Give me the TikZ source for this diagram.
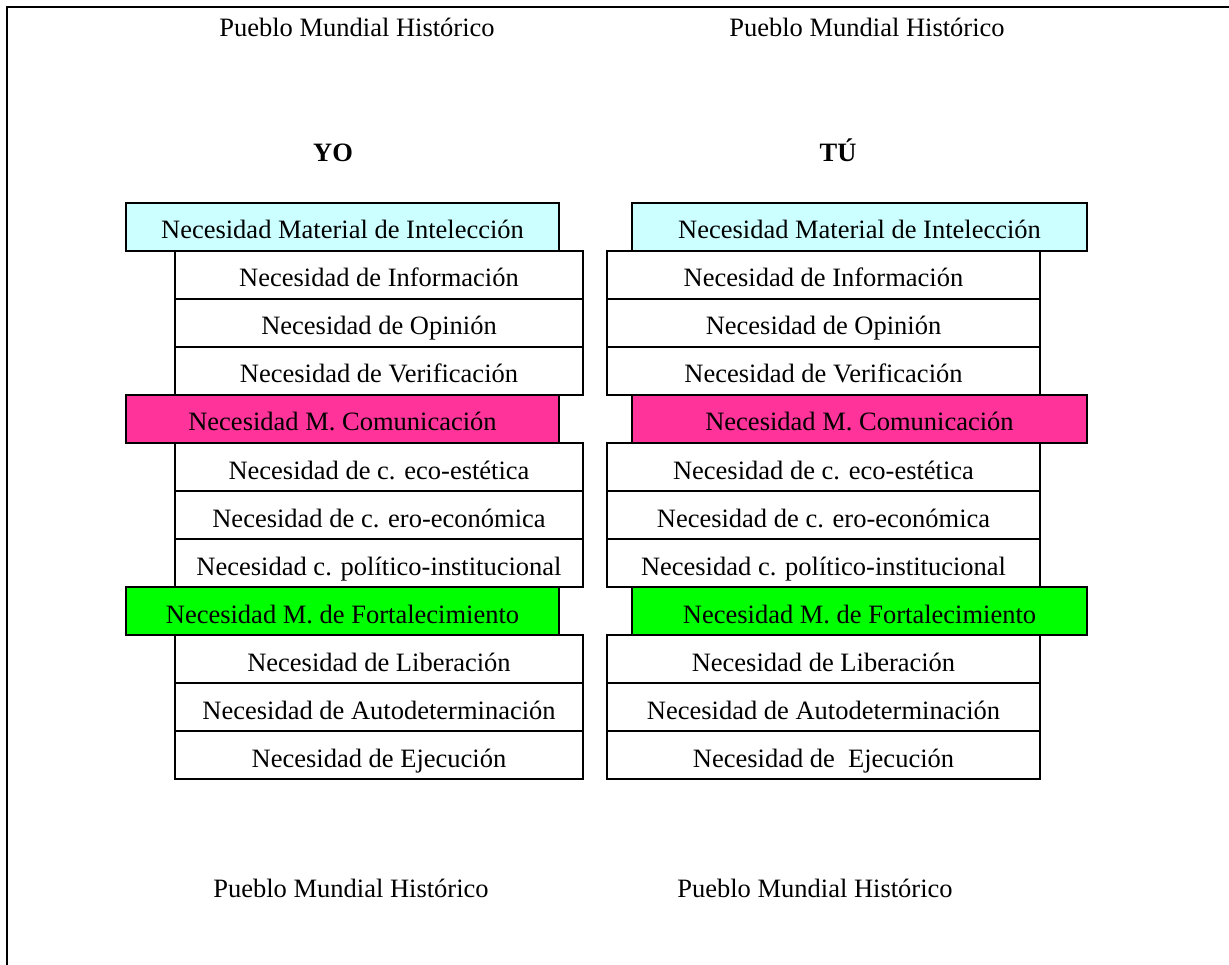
\documentclass[tikz,border=0pt]{standalone}
\usepackage{fontspec}
\setmainfont{Liberation Serif}
\definecolor{celeste}{RGB}{204,255,255}
\definecolor{rosa}{RGB}{255,51,153}
\definecolor{verde}{RGB}{0,255,0}
\begin{document}
\begin{tikzpicture}[x=1pt,y=-1pt,
    every node/.style={font=\fontsize{26.5}{30}\selectfont},
    caja/.style={draw,line width=1.6pt,inner xsep=0pt,inner ysep=0pt,
      minimum height=48pt,text height=36pt,text depth=12pt},
    yoblanca/.style={caja,fill=white,minimum width=408pt},
    yocolor/.style={caja,minimum width=433pt},
    tublanca/.style={caja,fill=white,minimum width=433pt},
    tucolor/.style={caja,minimum width=455pt},
    pueblo/.style={anchor=base},
    titulo/.style={anchor=base,font=\fontsize{26.5}{30}\selectfont\bfseries}]
  \useasboundingbox (0,0) rectangle (1229,965);
  % marco
  \draw[line width=2.5pt] (7,965) -- (7,7) -- (1229,7);
  \draw
    (357,37) node[pueblo] (p1){Pueblo Mundial Histórico}
    (867,37) node[pueblo] (p2){Pueblo Mundial Histórico}
    (351,897) node[pueblo] (p3){Pueblo Mundial Histórico}
    (815,897) node[pueblo] (p4){Pueblo Mundial Histórico}
    (333,162) node[titulo] (yo){YO}
    (838,162) node[titulo] (tu){TÚ};
  % columna YO
  \draw
    (342.5,227) node[yocolor,fill=celeste] (yo1){Necesidad Material de Intelección}
    (379,275) node[yoblanca] (yo2){Necesidad de Información}
    (379,323) node[yoblanca] (yo3){Necesidad de Opinión}
    (379,371) node[yoblanca] (yo4){Necesidad de Verificación}
    (342.5,419) node[yocolor,fill=rosa] (yo5){Necesidad M. Comunicación}
    (379,467) node[yoblanca] (yo6){Necesidad de c. eco-estética}
    (379,515) node[yoblanca] (yo7){Necesidad de c. ero-económica}
    (379,563) node[yoblanca] (yo8){Necesidad c. político-institucional}
    (342.5,611) node[yocolor,fill=verde] (yo9){Necesidad M. de Fortalecimiento}
    (379,659) node[yoblanca] (yo10){Necesidad de Liberación}
    (379,707) node[yoblanca] (yo11){Necesidad de Autodeterminación}
    (379,755) node[yoblanca] (yo12){Necesidad de Ejecución};
  % columna TU
  \draw
    (859.5,227) node[tucolor,fill=celeste] (tu1){Necesidad Material de Intelección}
    (823.5,275) node[tublanca] (tu2){Necesidad de Información}
    (823.5,323) node[tublanca] (tu3){Necesidad de Opinión}
    (823.5,371) node[tublanca] (tu4){Necesidad de Verificación}
    (859.5,419) node[tucolor,fill=rosa] (tu5){Necesidad M. Comunicación}
    (823.5,467) node[tublanca] (tu6){Necesidad de c. eco-estética}
    (823.5,515) node[tublanca] (tu7){Necesidad de c. ero-económica}
    (823.5,563) node[tublanca] (tu8){Necesidad c. político-institucional}
    (859.5,611) node[tucolor,fill=verde] (tu9){Necesidad M. de Fortalecimiento}
    (823.5,659) node[tublanca] (tu10){Necesidad de Liberación}
    (823.5,707) node[tublanca] (tu11){Necesidad de Autodeterminación}
    (823.5,755) node[tublanca] (tu12){Necesidad de\ \ Ejecución};
\end{tikzpicture}
\end{document}
